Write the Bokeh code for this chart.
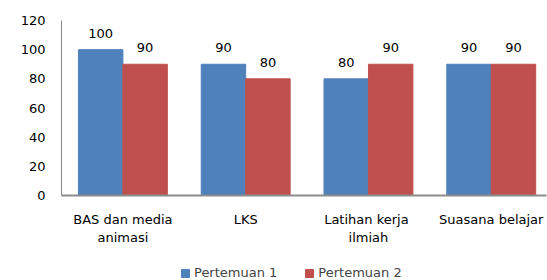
import numpy as np
from bokeh.plotting import figure
from bokeh.layouts import column
from bokeh.models import ColumnDataSource, Range1d, FixedTicker, Legend, LegendItem
from bokeh.core.properties import value
from bokeh.embed import file_html
from bokeh.resources import INLINE

categories = ["BAS dan media\nanimasi", "LKS", "Latihan  kerja\nilmiah", "Suasana belajar"]
series_names = ["Pertemuan 1", "Pertemuan 2"]
pertemuan1 = [100, 90, 80, 90]
pertemuan2 = [90, 80, 90, 90]
y_ticks = [0, 20, 40, 60, 80, 100, 120]

colors = ["#4F81BD", "#C0504D"]
FONT = "DejaVu Sans"
bar_w = 0.362

p = figure(width=547, height=258, output_backend="svg", toolbar_location=None,
           x_range=Range1d(0, 3.95), y_range=Range1d(0, 120),
           min_border_left=61, min_border_right=1, min_border_top=20, min_border_bottom=63)
p.outline_line_color = None
p.xgrid.visible = False
p.ygrid.visible = False

centers = np.arange(len(categories)) + 0.5
for k, (vals, col) in enumerate(zip([pertemuan1, pertemuan2], colors)):
    xs = centers + (k - 0.5) * bar_w
    src = ColumnDataSource(dict(x=xs, top=vals, lab=[str(v) for v in vals]))
    p.vbar(x="x", top="top", width=bar_w, source=src, fill_color=col, line_color=col)
    p.text(x="x", y="top", text="lab", source=src, text_align="center",
           text_baseline="bottom", y_offset=-12, text_font=value(FONT),
           text_font_size="13px", text_color="#000000")

p.xaxis.ticker = FixedTicker(ticks=list(centers))
p.xaxis.major_label_overrides = {float(c): lab for c, lab in zip(centers, categories)}
p.yaxis.ticker = FixedTicker(ticks=y_ticks)

for ax in (p.xaxis, p.yaxis):
    ax.major_tick_out = 0
    ax.major_tick_in = 0
    ax.minor_tick_out = 0
    ax.minor_tick_in = 0
    ax.major_label_text_font = FONT
    ax.major_label_text_font_size = "13px"
    ax.major_label_text_color = "#000000"
p.yaxis.axis_line_color = "#868686"
p.yaxis.major_label_standoff = 16
p.xaxis.axis_line_color = "#8C8C8C"
p.xaxis.axis_line_width = 2
p.xaxis.major_label_standoff = 16

# legend strip (its frame is aligned with the main frame by the column layout)
lg = figure(width=547, height=22, output_backend="svg", toolbar_location=None,
            min_border=0, x_range=Range1d(0, 1), y_range=Range1d(0, 1))
lg.axis.visible = False
lg.grid.visible = False
lg.outline_line_color = None
leg_renderers = []
for col in colors:
    leg_renderers.append(lg.vbar(x=[-5], top=[-1], bottom=[-2], width=0.1,
                                 fill_color=col, line_color=col))
legend = Legend(items=[LegendItem(label=n, renderers=[r]) for n, r in zip(series_names, leg_renderers)],
                orientation="horizontal", location=(119, 0),
                label_text_font=FONT, label_text_font_size="13px",
                glyph_width=10, glyph_height=10, label_standoff=4, spacing=27,
                padding=0, margin=0, border_line_color=None, background_fill_alpha=0)
lg.add_layout(legend, "center")

layout = column(p, lg, spacing=0)
open("out.html", "w").write(file_html(layout, INLINE))
